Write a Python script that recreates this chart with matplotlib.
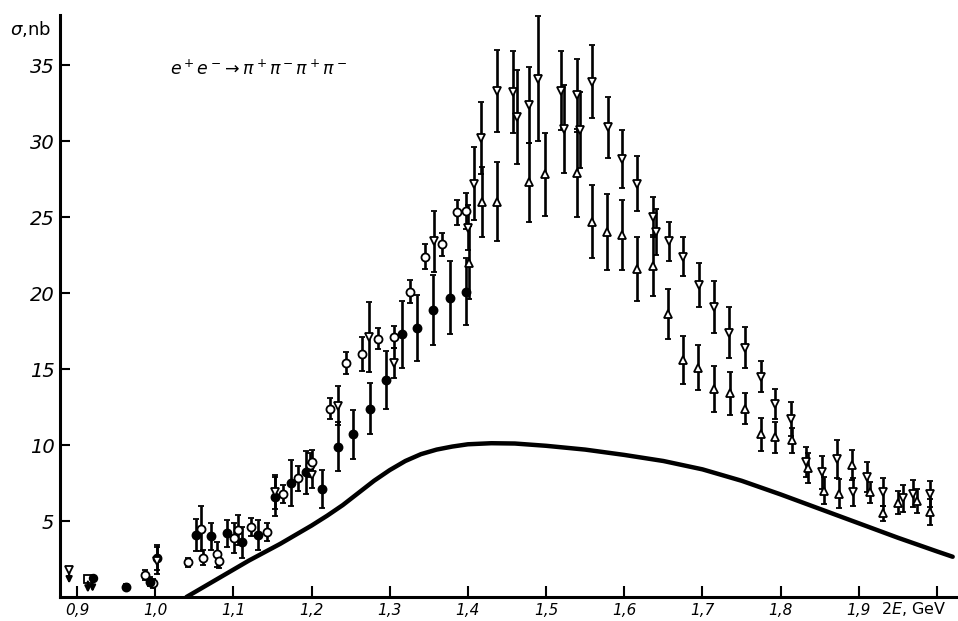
import matplotlib
matplotlib.use("Agg")
import matplotlib.pyplot as plt

plt.rcParams['font.family'] = ['Liberation Sans Narrow', 'DejaVu Sans']
plt.rcParams['mathtext.fontset'] = 'dejavusans'

# open circles
e_open = [0.987, 0.997, 1.042, 1.059, 1.061, 1.079, 1.082, 1.101, 1.106, 1.123, 1.143, 1.163, 1.183,
          1.198, 1.200, 1.224, 1.244, 1.264, 1.285, 1.305, 1.326, 1.345, 1.367, 1.386, 1.398]
s_open = [1.45, 0.9, 2.3, 4.5, 2.6, 2.8, 2.4, 3.9, 4.4, 4.6, 4.3, 6.8, 7.8,
          8.7, 8.9, 12.4, 15.4, 16.0, 17.0, 17.1, 20.1, 22.4, 23.2, 25.3, 25.4]
d_open = [0.3, 0.3, 0.3, 1.5, 0.5, 0.8, 0.5, 1.0, 1.0, 0.6, 0.6, 0.6, 0.8,
          0.8, 0.8, 0.7, 0.7, 1.1, 0.7, 0.7, 0.75, 0.8, 0.75, 0.85, 1.2]

# filled circles
e_full = [0.963, 0.993, 1.003, 1.052, 1.071, 1.092, 1.111, 1.132, 1.153, 1.174, 1.193, 1.213,
          1.234, 1.253, 1.275, 1.295, 1.316, 1.335, 1.355, 1.377, 1.398]
s_full = [0.65, 1.0, 2.6, 4.1, 4.0, 4.2, 3.6, 4.1, 6.6, 7.5, 8.2, 7.1,
          9.9, 10.7, 12.4, 14.3, 17.3, 17.7, 18.9, 19.7, 20.1]
d_full = [0.2, 0.3, 0.8, 1.05, 0.9, 0.9, 1.0, 1.0, 1.3, 1.5, 1.4, 1.25,
          1.6, 1.6, 1.7, 1.9, 2.2, 2.2, 2.3, 2.4, 2.2]

# down triangles
e_down = [1.003, 1.153, 1.200, 1.234, 1.274, 1.305, 1.357, 1.400, 1.408, 1.417, 1.437, 1.458, 1.463,
          1.478, 1.490, 1.519, 1.523, 1.540, 1.543, 1.559, 1.579, 1.597, 1.616, 1.637, 1.640,
          1.657, 1.675, 1.696, 1.715, 1.734, 1.754, 1.775, 1.793, 1.813, 1.832, 1.853, 1.872,
          1.893, 1.911, 1.931, 1.956, 1.969, 1.991]
s_down = [2.4, 6.9, 8.0, 12.6, 17.1, 15.4, 23.4, 24.3, 27.2, 30.2, 33.3, 33.2, 31.6,
          32.4, 34.1, 33.3, 30.8, 33.0, 30.7, 33.9, 30.9, 28.8, 27.2, 25.0, 24.0,
          23.4, 22.4, 20.5, 19.1, 17.4, 16.4, 14.5, 12.7, 11.7, 8.9, 8.2, 9.1,
          6.9, 7.9, 6.9, 6.5, 6.8, 6.8]
d_down = [0.9, 1.1, 0.8, 1.3, 2.3, 1.0, 2.0, 1.5, 2.4, 2.4, 2.7, 2.7, 3.1,
          2.5, 4.1, 2.6, 2.9, 2.4, 2.5, 2.4, 2.0, 1.9, 1.8, 1.3, 1.5,
          1.3, 1.3, 1.45, 1.7, 1.7, 1.35, 1.0, 1.0, 1.1, 1.0, 1.1, 1.25,
          0.9, 1.0, 0.9, 0.9, 0.9, 0.85]

# up triangles
e_up = [1.401, 1.418, 1.437, 1.478, 1.499, 1.540, 1.559, 1.578, 1.597, 1.616, 1.637, 1.656,
        1.675, 1.694, 1.715, 1.735, 1.754, 1.775, 1.793, 1.815, 1.835, 1.855, 1.874, 1.891,
        1.914, 1.931, 1.950, 1.974, 1.991]
s_up = [22.0, 26.0, 26.0, 27.3, 27.8, 27.9, 24.7, 24.0, 23.8, 21.6, 21.8, 18.6,
        15.6, 15.1, 13.7, 13.4, 12.4, 10.7, 10.5, 10.3, 8.5, 7.0, 6.8, 8.7,
        6.9, 5.5, 6.2, 6.3, 5.6]
d_up = [2.4, 2.3, 2.6, 2.6, 2.7, 2.9, 2.4, 2.5, 2.3, 2.1, 2.0, 1.65,
        1.6, 1.5, 1.5, 1.4, 1.0, 1.1, 1.0, 0.85, 1.0, 0.9, 0.95, 1.0,
        0.7, 0.5, 0.75, 0.8, 0.85]

# upper limits (arrows)
e_lim = [0.890, 0.914, 0.920]
s_lim = [1.8, 1.2, 1.25]
m_lim = ['v', 's', 'o']
f_lim = ['white', 'white', 'black']

# theory curve
e_curve = [1.04, 1.06, 1.08, 1.10, 1.12, 1.14, 1.16, 1.18, 1.20, 1.22, 1.24, 1.26, 1.28,
           1.30, 1.32, 1.34, 1.36, 1.38, 1.40, 1.43, 1.46, 1.50, 1.55, 1.60, 1.65, 1.70,
           1.75, 1.80, 1.85, 1.90, 1.95, 2.00, 2.02]
s_curve = [0.0, 0.6, 1.2, 1.8, 2.4, 2.95, 3.5, 4.1, 4.7, 5.35, 6.05, 6.85, 7.65,
           8.35, 8.95, 9.4, 9.7, 9.9, 10.05, 10.12, 10.1, 9.95, 9.7, 9.35, 8.95, 8.4,
           7.65, 6.75, 5.8, 4.85, 3.9, 3.0, 2.65]

x_ticks = [0.9, 1.0, 1.1, 1.2, 1.3, 1.4, 1.5, 1.6, 1.7, 1.8, 1.9, 2.0]
x_labels = ['0,9', '1,0', '1,1', '1,2', '1,3', '1,4', '1,5', '1,6', '1,7', '1,8', '1,9', '']
y_ticks = [5, 10, 15, 20, 25, 30, 35]

fig = plt.figure(figsize=(9.58, 6.21), dpi=100)
ax = fig.add_axes([0.0626, 0.0386, 0.9374, 0.9374])
ax.set_xlim(0.8783, 2.0268)
ax.set_ylim(0, 38.3)

ax.plot(e_curve, s_curve, color='black', lw=3.2, solid_capstyle='round', solid_joinstyle='round')

style = dict(ls='none', ecolor='black', elinewidth=1.9, capsize=2.2, capthick=1.6,
             mec='black', mew=1.3, ms=5.8)
ax.errorbar(e_open, s_open, yerr=d_open, fmt='o', mfc='white', **style)
ax.errorbar(e_full, s_full, yerr=d_full, fmt='o', mfc='black', **style)
ax.errorbar(e_down, s_down, yerr=d_down, fmt='v', mfc='white', **style)
ax.errorbar(e_up, s_up, yerr=d_up, fmt='^', mfc='white', **style)

for e, s, m, f in zip(e_lim, s_lim, m_lim, f_lim):
    ax.annotate('', xy=(e, s - 1.1), xytext=(e, s),
                arrowprops=dict(arrowstyle='-|>', color='black', lw=1.6, mutation_scale=9))
    ax.plot([e], [s], marker=m, mfc=f, mec='black', mew=1.3, ms=5.5)

for side in ['top', 'right']:
    ax.spines[side].set_visible(False)
for side in ['left', 'bottom']:
    ax.spines[side].set_linewidth(2.2)

ax.set_xticks(x_ticks)
ax.set_xticklabels(x_labels, fontsize=11, style='italic')
ax.set_yticks(y_ticks)
ax.set_yticklabels([str(v) for v in y_ticks], fontsize=14, style='italic')
ax.tick_params(axis='x', direction='in', length=8, width=1.5, pad=4)
ax.tick_params(axis='y', direction='in', length=7, width=1.5, pad=4)

ax.text(-0.01, 0.975, r'$\sigma$,nb', transform=ax.transAxes, fontsize=13,
        ha='right', va='center', family='DejaVu Sans')
ax.text(0.123, 0.907, r'$e^+e^-\!\rightarrow\pi^+\pi^-\pi^+\pi^-$', transform=ax.transAxes,
        fontsize=12.5, ha='left', va='center')
ax.text(1.928, -0.8, r'$\mathit{2E}$, GeV', fontsize=11.5, ha='left', va='center',
        family='DejaVu Sans')

ax.set_facecolor('white')
fig.savefig('out.png', dpi=100, facecolor='white')
